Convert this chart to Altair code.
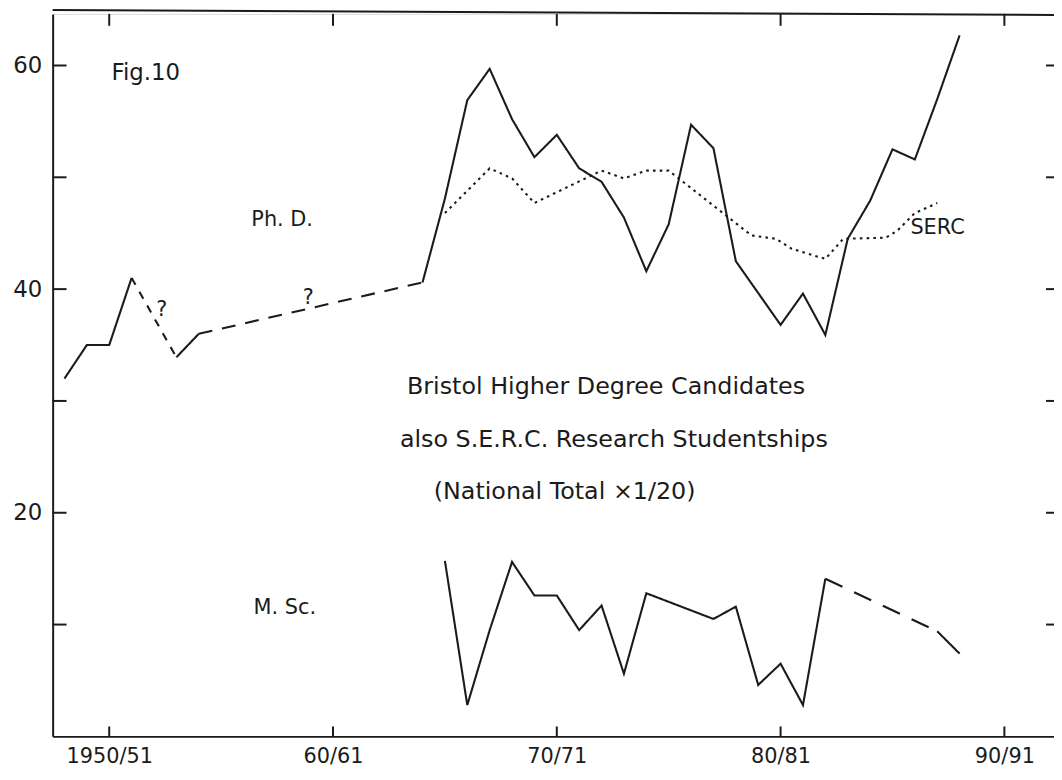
import altair as alt
import pandas as pd

# ---------------- data ----------------
phd_years = [1948, 1949, 1950, 1951, 1953, 1954, 1964, 1965, 1966, 1967, 1968, 1969,
             1970, 1971, 1972, 1973, 1974, 1975, 1976, 1977, 1978, 1980, 1981, 1982,
             1983, 1984, 1985, 1986, 1987, 1988]
phd_values = [32.0, 35.0, 35.0, 41.0, 33.9, 36.0, 40.6, 48.1, 56.9, 59.7, 55.2, 51.8,
              53.8, 50.8, 49.6, 46.4, 41.6, 45.8, 54.7, 52.6, 42.5, 36.8, 39.6, 35.9,
              44.5, 47.9, 52.5, 51.6, 57.0, 62.7]

serc_years = [1965, 1967, 1968, 1969, 1972, 1973, 1974, 1975, 1978.7, 1979.8, 1980.5,
              1982, 1982.8, 1984.7, 1985.2, 1986, 1987]
serc_values = [46.8, 50.8, 49.9, 47.7, 50.6, 49.9, 50.6, 50.6, 44.8, 44.5, 43.6,
               42.7, 44.5, 44.6, 45.2, 46.8, 47.7]

msc_years = [1965, 1966, 1967, 1968, 1969, 1970, 1971, 1972, 1973, 1974, 1977, 1978,
             1979, 1980, 1981, 1982, 1987, 1988]
msc_values = [15.7, 2.8, 9.5, 15.6, 12.6, 12.6, 9.5, 11.7, 5.6, 12.8, 10.5, 11.6,
              4.6, 6.5, 2.8, 14.1, 9.4, 7.4]

x_tick_years = [1950, 1960, 1970, 1980, 1990]
x_tick_labels = ["1950/51", "60/61", "70/71", "80/81", "90/91"]
y_label_values = [20, 40, 60]
y_minor_ticks = [10, 20, 30, 40, 50, 60]

# which stretches of each series are drawn solid / broken (uncertain)
phd_pieces = [(1948, 1951, "solid"), (1951, 1953, "short"), (1953, 1954, "solid"),
              (1954, 1964, "dashed"), (1964, 1988, "solid")]
msc_pieces = [(1965, 1982, "solid"), (1982, 1987, "long"), (1987, 1988, "solid")]
serc_pieces = [(1965, 1987, "dotted")]

title_lines = ["Bristol Higher Degree Candidates",
               "also S.E.R.C. Research Studentships",
               "(National Total \u00d71/20)"]

# ---------------- build tables ----------------
rows = []
def add(name, years, values, pieces):
    for i, (a, b, style) in enumerate(pieces):
        for yr, v in zip(years, values):
            if a <= yr <= b:
                rows.append({"seg": f"{name}{i}", "year": yr, "value": v, "style": style})

add("phd", phd_years, phd_values, phd_pieces)
add("msc", msc_years, msc_values, msc_pieces)
add("serc", serc_years, serc_values, serc_pieces)
lines_df = pd.DataFrame(rows)

W, H = 1009, 728
XMIN = 1950 - 57 / 22.55
XMAX = XMIN + W / 22.55
YMAX = H / 11.267

xs = alt.Scale(domain=[XMIN, XMAX], nice=False, zero=False)
ys = alt.Scale(domain=[0, YMAX], nice=False, zero=False)
INK = "#1b1b1b"
FONT = "DejaVu Sans"

label_expr = " : ".join(
    [f"datum.value == {y} ? '{l}'" for y, l in zip(x_tick_years, x_tick_labels)]
) + " : ''"

lines = alt.Chart(lines_df).mark_line(color=INK, strokeWidth=2.1).encode(
    x=alt.X("year:Q", scale=xs,
            axis=alt.Axis(values=x_tick_years, labelExpr=label_expr, ticks=False,
                          grid=False, domainColor=INK, domainWidth=2,
                          labelFont=FONT, labelFontSize=21, labelColor=INK,
                          labelPadding=9, title=None)),
    y=alt.Y("value:Q", scale=ys,
            axis=alt.Axis(values=y_label_values, ticks=False, grid=False,
                          domainColor=INK, domainWidth=2, labelFont=FONT,
                          labelFontSize=23, labelColor=INK, labelPadding=11,
                          title=None)),
    detail="seg:N",
    strokeDash=alt.StrokeDash(
        "style:N",
        scale=alt.Scale(domain=["solid", "short", "dashed", "long", "dotted"],
                        range=[[1, 0], [8, 8], [14, 10], [19, 13], [2.6, 4.2]]),
        legend=None),
    strokeWidth=alt.StrokeWidth(
        "style:N",
        scale=alt.Scale(domain=["solid", "short", "dashed", "long", "dotted"],
                        range=[2.1, 2.1, 2.1, 2.1, 2.8]),
        legend=None),
)

ytick_df = pd.DataFrame({"v": y_minor_ticks})
left_ticks = alt.Chart(ytick_df).mark_rule(color=INK, strokeWidth=2).encode(
    y=alt.Y("v:Q", scale=ys), x=alt.value(0), x2=alt.value(14))
right_ticks = alt.Chart(ytick_df).mark_rule(color=INK, strokeWidth=2).encode(
    y=alt.Y("v:Q", scale=ys), x=alt.value(W - 8), x2=alt.value(W))

xtick_df = pd.DataFrame({"yr": x_tick_years})
bottom_ticks = alt.Chart(xtick_df).mark_rule(color=INK, strokeWidth=2).encode(
    x=alt.X("yr:Q", scale=xs), y=alt.value(H), y2=alt.value(H - 10))
top_ticks = alt.Chart(xtick_df).mark_rule(color=INK, strokeWidth=2).encode(
    x=alt.X("yr:Q", scale=xs), y=alt.value(0), y2=alt.value(12))

top_line = alt.Chart(pd.DataFrame({"k": [0]})).mark_rule(color=INK, strokeWidth=2).encode(
    x=alt.value(0), x2=alt.value(W), y=alt.value(-4), y2=alt.value(1))

# annotations (positions in data units)
labels_df = pd.DataFrame({
    "text": ["Ph. D.", "SERC", "M. Sc.", "?", "?"],
    "year": [1956.35, 1985.8, 1956.45, 1952.1, 1958.65],
    "value": [46.2, 45.5, 11.45, 38.1, 39.2],
})
labels = alt.Chart(labels_df).mark_text(
    align="left", baseline="middle", font=FONT, fontSize=21, color=INK
).encode(x=alt.X("year:Q", scale=xs), y=alt.Y("value:Q", scale=ys), text="text:N")

fig_df = pd.DataFrame({"text": ["Fig.10"], "year": [1950.1], "value": [59.3]})
fig_label = alt.Chart(fig_df).mark_text(
    align="left", baseline="middle", font=FONT, fontSize=23, color=INK
).encode(x=alt.X("year:Q", scale=xs), y=alt.Y("value:Q", scale=ys), text="text:N")

title_df = pd.DataFrame({
    "text": title_lines,
    "year": [1972.2, 1972.55, 1970.35],
    "value": [31.24, 26.54, 21.83],
})
title = alt.Chart(title_df).mark_text(
    align="center", baseline="middle", font=FONT, fontSize=24, color=INK
).encode(x=alt.X("year:Q", scale=xs), y=alt.Y("value:Q", scale=ys), text="text:N")

chart = alt.layer(
    lines, left_ticks, right_ticks, bottom_ticks, top_ticks, top_line,
    labels, fig_label, title
).properties(
    width=W, height=H,
    padding={"left": 45, "top": 3, "right": 0, "bottom": 40},
    autosize=alt.AutoSizeParams(type="none"),
).configure_view(stroke=None).configure(background="white")

chart.save("out.html", embed_options={"renderer": "svg", "actions": False})
